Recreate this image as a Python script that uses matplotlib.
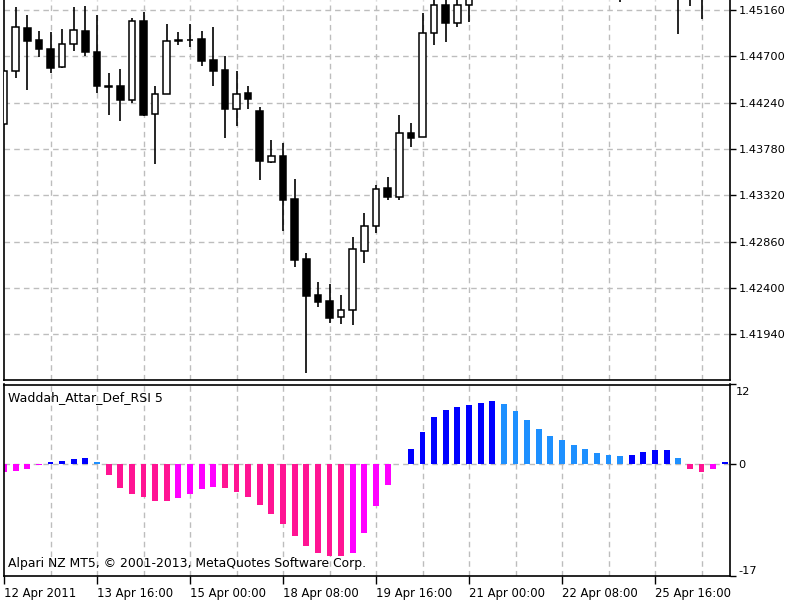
import matplotlib
matplotlib.use("Agg")
import matplotlib.pyplot as plt
import matplotlib.transforms as mtransforms
import numpy as np

# EURUSD H4 candles (bars 41..62 are mostly above the visible range)
opens = [1.44028, 1.44557, 1.44978, 1.44862, 1.44775, 1.44597, 1.44819, 1.44951, 1.44746, 1.44408,
         1.44405, 1.44266, 1.45053, 1.44124, 1.44326, 1.44857, 1.44862, 1.44869, 1.44663, 1.44564,
         1.44180, 1.44333, 1.44157, 1.43653, 1.43713, 1.43280, 1.42687, 1.42327, 1.42267, 1.42108,
         1.42178, 1.42767, 1.43015, 1.43389, 1.43300, 1.43941, 1.43896, 1.44928, 1.45209, 1.45028,
         1.45209, 1.45408, 1.45570, 1.45510, 1.45610, 1.45540, 1.45470, 1.45560, 1.45490, 1.45590,
         1.45700, 1.45620, 1.45490, 1.45550, 1.45420, 1.45650, 1.45710, 1.45790, 1.45730, 1.45390,
         1.45370, 1.45440, 1.45510]
highs = [1.44564, 1.45187, 1.45110, 1.44951, 1.44938, 1.44968, 1.45187, 1.45199, 1.45110, 1.44531,
         1.44577, 1.45077, 1.45137, 1.44405, 1.45021, 1.44938, 1.45021, 1.44954, 1.44994, 1.44703,
         1.44554, 1.44405, 1.44200, 1.43869, 1.43836, 1.43479, 1.42744, 1.42456, 1.42439, 1.42327,
         1.42903, 1.43147, 1.43422, 1.43504, 1.44117, 1.44041, 1.45127, 1.45338, 1.45319, 1.45309,
         1.45557, 1.45650, 1.45740, 1.45690, 1.45790, 1.45670, 1.45620, 1.45710, 1.45650, 1.45770,
         1.45840, 1.45730, 1.45610, 1.45650, 1.45710, 1.45790, 1.45870, 1.45910, 1.45790, 1.45540,
         1.45490, 1.45570, 1.45590]
lows = [1.44018, 1.44482, 1.44365, 1.44696, 1.44537, 1.44584, 1.44753, 1.44706, 1.44339, 1.44117,
        1.44060, 1.44233, 1.44112, 1.43630, 1.44321, 1.44812, 1.44795, 1.44607, 1.44405, 1.43892,
        1.44008, 1.44177, 1.43472, 1.43643, 1.42968, 1.42605, 1.41558, 1.42208, 1.42049, 1.42042,
        1.42032, 1.42650, 1.42942, 1.43273, 1.43273, 1.43802, 1.43896, 1.44812, 1.44839, 1.44988,
        1.45043, 1.45360, 1.45440, 1.45390, 1.45470, 1.45400, 1.45380, 1.45450, 1.45410, 1.45510,
        1.45570, 1.45440, 1.45380, 1.45242, 1.45370, 1.45540, 1.45590, 1.45650, 1.44918, 1.45202,
        1.45070, 1.45360, 1.45470]
closes = [1.44557, 1.44988, 1.44855, 1.44772, 1.44581, 1.44822, 1.44964, 1.44740, 1.44408, 1.44398,
          1.44266, 1.45051, 1.44120, 1.44326, 1.44849, 1.44847, 1.44857, 1.44653, 1.44554, 1.44177,
          1.44326, 1.44276, 1.43657, 1.43710, 1.43273, 1.42677, 1.42320, 1.42263, 1.42101, 1.42181,
          1.42786, 1.43018, 1.43379, 1.43300, 1.43941, 1.43892, 1.44934, 1.45209, 1.45034, 1.45209,
          1.45408, 1.45570, 1.45510, 1.45610, 1.45540, 1.45470, 1.45560, 1.45490, 1.45590, 1.45700,
          1.45620, 1.45490, 1.45550, 1.45420, 1.45650, 1.45710, 1.45790, 1.45730, 1.45390, 1.45370,
          1.45440, 1.45510, 1.45550]

# Waddah_Attar_Def_RSI histogram
wa_values = [-1.3, -1.2, -0.83, -0.2, 0.25, 0.42, 0.64, 0.83, 0.2, -1.75,
             -3.67, -4.63, -5.04, -5.69, -5.75, -5.24, -4.58, -3.87, -3.52, -3.72,
             -4.37, -5.04, -6.36, -7.66, -9.18, -10.96, -12.47, -13.63, -14.04, -14.1,
             -13.6, -10.6, -6.4, -3.26, 0.0, 2.2, 4.83, 7.06, 8.16, 8.62,
             8.83, 9.23, 9.44, 9.03, 7.97, 6.6, 5.28, 4.17, 3.52, 2.85,
             2.2, 1.59, 1.34, 1.1, 1.34, 1.75, 2.0, 2.05, 0.83, -0.83,
             -1.24, -0.8, 0.25]

price_ticks = [1.41940, 1.42400, 1.42860, 1.43320, 1.43780, 1.44240, 1.44700, 1.45160]
date_labels = ["12 Apr 2011", "13 Apr 16:00", "15 Apr 00:00", "18 Apr 08:00",
               "19 Apr 16:00", "21 Apr 00:00", "22 Apr 08:00", "25 Apr 16:00"]

plt.rcParams['font.family'] = ['DejaVu Sans']
fig = plt.figure(figsize=(8, 6), dpi=100)
W, H = 800.0, 600.0
ax1 = fig.add_axes([4 / W, 1 - 380 / H, 726 / W, 380 / H])
ax2 = fig.add_axes([4 / W, 1 - 575.5 / H, 726 / W, 191 / H])

n = len(opens)
x = np.arange(n)
o = np.array(opens); c = np.array(closes)
hi = np.array(highs); lo = np.array(lows)
xmax = 62.45
grid_kw = dict(color='#BDBDBD', linestyle=(0, (4, 3)), linewidth=1)

# main chart
for gx in range(4, n, 4):
    ax1.axvline(gx, zorder=0, **grid_kw)
for py in price_ticks:
    ax1.axhline(py, zorder=0, **grid_kw)
ax1.vlines(x, lo, hi, color='black', linewidth=1.2, zorder=2)
bull = c >= o
body_h = np.maximum(np.abs(c - o), 0.00003)
ax1.bar(x, body_h, bottom=np.minimum(o, c), width=0.57,
        color=np.where(bull, 'white', 'black'), edgecolor='black', linewidth=1.1, zorder=3)
ax1.set_xlim(0, xmax)
ax1.set_ylim(1.41486, 1.45259)
ax1.yaxis.tick_right()
ax1.set_yticks(price_ticks)
ax1.set_yticklabels(["%.5f" % p for p in price_ticks], fontsize=8.2)
ax1.tick_params(axis='y', length=4, width=1, pad=2)
ax1.set_xticks([])
ax1.spines['top'].set_visible(False)
for s in ['left', 'right', 'bottom']:
    ax1.spines[s].set_linewidth(1.2)

# indicator window
v = np.array(wa_values)
prev = np.concatenate([[v[0]], v[:-1]])
cols = []
for val, pv in zip(v, prev):
    if val >= 0:
        cols.append('#0000FF' if val > pv else '#1E90FF')
    else:
        cols.append('#FF1493' if val < pv else '#FF00FF')
for gx in range(4, n, 4):
    ax2.axvline(gx, zorder=0, **grid_kw)
ax2.axhline(0, zorder=0, **grid_kw)
ax2.bar(x, v, width=0.5, color=cols, zorder=2)
ax2.set_xlim(0, xmax)
ax2.set_ylim(-17, 12)
ax2.yaxis.tick_right()
ax2.set_yticks([-17, 0, 12])
ax2.set_yticklabels(['-17', '0', ''], fontsize=8.2)
ax2.get_yticklabels()[0].set_va('bottom')
# top scale label sits a little below its tick
lab_tr = ax2.get_yaxis_transform() + mtransforms.ScaledTranslation(6 / 100, -3 / 100, fig.dpi_scale_trans)
ax2.text(1.0, 12, '12', transform=lab_tr, fontsize=8.2, va='top', ha='left')
ax2.tick_params(axis='y', length=4, width=1, pad=2)
ax2.set_xticks(np.arange(0, n, 8)[:len(date_labels)])
ax2.set_xticklabels(date_labels, fontsize=8.4, ha='left')
ax2.tick_params(axis='x', length=6, width=1, pad=2)
for s in ax2.spines.values():
    s.set_linewidth(1.2)
ax2.text(0.005, 0.965, "Waddah_Attar_Def_RSI 5", transform=ax2.transAxes,
         fontsize=9, va='top', ha='left')
ax2.text(0.005, 0.03, "Alpari NZ MT5, \u00a9 2001-2013, MetaQuotes Software Corp.",
         transform=ax2.transAxes, fontsize=8.9, va='bottom', ha='left')

fig.savefig("out.png", dpi=100)
